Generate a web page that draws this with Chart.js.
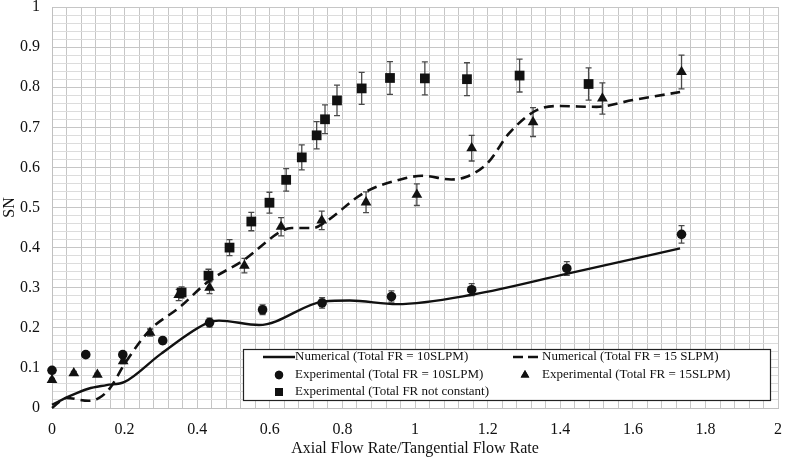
<!DOCTYPE html>
<html>
<head>
<meta charset="utf-8">
<script src="https://cdn.jsdelivr.net/npm/chart.js@4.4.0/dist/chart.umd.min.js"></script>
<style>
  html, body { margin: 0; padding: 0; background: #fff; }
  #wrap { width: 785px; height: 460px; }
</style>
</head>
<body>
<div id="wrap"><canvas id="snChart" width="785" height="460"></canvas></div>
<script>
// tick labels
const xTickLabels = ["0", "0.2", "0.4", "0.6", "0.8", "1", "1.2", "1.4", "1.6", "1.8", "2"];
const yTickLabels = ["0", "0.1", "0.2", "0.3", "0.4", "0.5", "0.6", "0.7", "0.8", "0.9", "1"];

// numerical, total FR = 10 SLPM
const num10X = [0, 0.05, 0.1, 0.15, 0.2, 0.3, 0.43, 0.46, 0.57, 0.75, 0.82, 0.95, 1.16, 1.42, 1.73];
const num10Y = [0.008, 0.03, 0.048, 0.057, 0.065, 0.135, 0.213, 0.218, 0.207, 0.266, 0.268, 0.259, 0.283, 0.335, 0.398];

// numerical, total FR = 15 SLPM
const num15X = [0, 0.04, 0.1, 0.13, 0.16, 0.2, 0.27, 0.35, 0.43, 0.53, 0.63, 0.66, 0.72, 0.75, 0.86, 0.96, 1.02, 1.1, 1.14, 1.2, 1.26, 1.34, 1.4, 1.5, 1.6, 1.73];
const num15Y = [0, 0.025, 0.018, 0.025, 0.05, 0.11, 0.195, 0.25, 0.315, 0.37, 0.44, 0.449, 0.449, 0.462, 0.537, 0.57, 0.579, 0.57, 0.576, 0.611, 0.686, 0.745, 0.753, 0.751, 0.768, 0.788];

// experimental, total FR = 10 SLPM (circles)
const exp10X = [0, 0.093, 0.195, 0.305, 0.434, 0.58, 0.744, 0.935, 1.156, 1.418, 1.734];
const exp10Y = [0.094, 0.133, 0.133, 0.168, 0.213, 0.245, 0.262, 0.278, 0.295, 0.348, 0.433];
const exp10Err = [0.005, 0.007, 0.007, 0.008, 0.011, 0.012, 0.013, 0.014, 0.015, 0.017, 0.022];

// experimental, total FR = 15 SLPM (triangles)
const exp15X = [0, 0.06, 0.125, 0.196, 0.27, 0.349, 0.434, 0.53, 0.631, 0.743, 0.865, 1.005, 1.156, 1.325, 1.516, 1.734];
const exp15Y = [0.07, 0.087, 0.083, 0.117, 0.188, 0.282, 0.30, 0.355, 0.452, 0.468, 0.513, 0.532, 0.648, 0.713, 0.772, 0.838];
const exp15Err = [0.004, 0.004, 0.004, 0.006, 0.009, 0.014, 0.015, 0.018, 0.023, 0.023, 0.026, 0.027, 0.032, 0.036, 0.039, 0.042];

// experimental, total FR not constant (squares)
const expNcX = [0.357, 0.431, 0.489, 0.549, 0.599, 0.645, 0.688, 0.729, 0.752, 0.785, 0.853, 0.931, 1.027, 1.143, 1.288, 1.478];
const expNcY = [0.288, 0.33, 0.40, 0.465, 0.512, 0.569, 0.625, 0.68, 0.72, 0.767, 0.797, 0.823, 0.822, 0.820, 0.829, 0.808];
const expNcErr = [0.014, 0.016, 0.02, 0.023, 0.026, 0.028, 0.031, 0.034, 0.036, 0.038, 0.04, 0.041, 0.041, 0.041, 0.041, 0.04];

const toPoints = (xs, ys) => xs.map((x, i) => ({ x: x, y: ys[i] }));
const findLabel = (v, labels) => labels.find(l => Math.abs(parseFloat(l) - v) < 1e-6);

const serif = "'Liberation Serif', 'Times New Roman', serif";
const ink = "#111";

// error bars, drawn under the markers
const errorBarPlugin = {
  id: "errorBars",
  beforeDatasetsDraw(chart) {
    const { ctx, scales: { x, y } } = chart;
    ctx.save();
    ctx.strokeStyle = "#4a4a4a";
    ctx.lineWidth = 1.3;
    chart.data.datasets.forEach(ds => {
      if (!ds.errors) return;
      ds.data.forEach((p, j) => {
        const e = ds.errors[j];
        const px = x.getPixelForValue(p.x);
        const top = y.getPixelForValue(p.y + e);
        const bot = y.getPixelForValue(p.y - e);
        ctx.beginPath();
        ctx.moveTo(px, top); ctx.lineTo(px, bot);
        ctx.moveTo(px - 3, top); ctx.lineTo(px + 3, top);
        ctx.moveTo(px - 3, bot); ctx.lineTo(px + 3, bot);
        ctx.stroke();
      });
    });
    ctx.restore();
  }
};

// legend box inside the plot (bottom right)
const boxLegendPlugin = {
  id: "boxLegend",
  afterDraw(chart) {
    const ctx = chart.ctx;
    const left = 243, top = 349, right = 770, bottom = 400;
    ctx.save();
    ctx.fillStyle = "#fff";
    ctx.fillRect(left, top, right - left, bottom - top);
    ctx.strokeStyle = "#222";
    ctx.lineWidth = 1.2;
    ctx.strokeRect(left + 0.5, top + 0.5, right - left, bottom - top);

    ctx.font = "13px " + serif;
    ctx.fillStyle = ink;
    ctx.textBaseline = "middle";
    const rows = [357, 375, 392];

    // row 1
    ctx.strokeStyle = ink;
    ctx.lineWidth = 2.5;
    ctx.beginPath(); ctx.moveTo(263, rows[0]); ctx.lineTo(295, rows[0]); ctx.stroke();
    ctx.fillText("Numerical (Total FR = 10SLPM)", 295, rows[0]);
    ctx.setLineDash([10, 5]);
    ctx.beginPath(); ctx.moveTo(513, rows[0]); ctx.lineTo(541, rows[0]); ctx.stroke();
    ctx.setLineDash([]);
    ctx.fillText("Numerical (Total FR = 15 SLPM)", 542, rows[0]);

    // row 2
    Chart.helpers.drawPoint(ctx, { pointStyle: "circle", radius: 4.2, borderWidth: 0 }, 279, rows[1]);
    ctx.fill();
    ctx.fillText("Experimental (Total FR = 10SLPM)", 295, rows[1]);
    Chart.helpers.drawPoint(ctx, { pointStyle: "triangle", radius: 5, borderWidth: 0 }, 525, rows[1]);
    ctx.fill();
    ctx.fillText("Experimental (Total FR = 15SLPM)", 542, rows[1]);

    // row 3
    ctx.fillRect(275, rows[2] - 4, 8, 8);
    ctx.fillText("Experimental (Total FR not constant)", 295, rows[2]);
    ctx.restore();
  }
};

new Chart(document.getElementById("snChart"), {
  type: "scatter",
  data: {
    datasets: [
      {
        label: "Experimental (Total FR not constant)",
        data: toPoints(expNcX, expNcY),
        errors: expNcErr,
        pointStyle: "rect",
        pointRadius: 6.9,
        backgroundColor: ink,
        borderColor: ink,
        borderWidth: 0,
        order: 0,
        clip: false
      },
      {
        label: "Experimental (Total FR = 15SLPM)",
        data: toPoints(exp15X, exp15Y),
        errors: exp15Err,
        pointStyle: "triangle",
        pointRadius: 6.2,
        backgroundColor: ink,
        borderColor: ink,
        borderWidth: 0,
        order: 0,
        clip: false
      },
      {
        label: "Experimental (Total FR = 10SLPM)",
        data: toPoints(exp10X, exp10Y),
        errors: exp10Err,
        pointStyle: "circle",
        pointRadius: 4.8,
        backgroundColor: ink,
        borderColor: ink,
        borderWidth: 0,
        order: 0,
        clip: false
      },
      {
        label: "Numerical (Total FR = 10SLPM)",
        data: toPoints(num10X, num10Y),
        showLine: true,
        cubicInterpolationMode: "monotone",
        borderColor: ink,
        borderWidth: 2.4,
        pointRadius: 0,
        order: 1,
        clip: false
      },
      {
        label: "Numerical (Total FR = 15 SLPM)",
        data: toPoints(num15X, num15Y),
        showLine: true,
        cubicInterpolationMode: "monotone",
        borderColor: ink,
        borderWidth: 2.6,
        borderDash: [10, 6],
        pointRadius: 0,
        order: 1,
        clip: false
      }
    ]
  },
  options: {
    responsive: false,
    animation: false,
    layout: { padding: { top: 7, right: 5, left: 0, bottom: 0 } },
    plugins: {
      legend: { display: false },
      tooltip: { enabled: false }
    },
    scales: {
      x: {
        type: "linear",
        min: 0,
        max: 2,
        border: { display: true, color: "#c0c0c0" },
        grid: { color: "#c6c6c6", drawTicks: false, lineWidth: 1 },
        ticks: {
          stepSize: 0.04,
          autoSkip: false,
          maxRotation: 0,
          padding: 12,
          color: ink,
          font: { family: serif, size: 16 },
          callback: v => findLabel(v, xTickLabels) || ""
        },
        title: {
          display: true,
          text: "Axial Flow Rate/Tangential Flow Rate",
          color: ink,
          font: { family: serif, size: 16 },
          padding: { top: 0, bottom: 2 }
        },
        afterFit: s => { s.height = 52; s.paddingLeft = 0; s.paddingRight = 0; }
      },
      y: {
        type: "linear",
        min: 0,
        max: 1,
        border: { display: true, color: "#c0c0c0" },
        grid: {
          color: c => findLabel(c.tick.value, yTickLabels) ? "#c6c6c6" : "#dcdcdc",
          drawTicks: false,
          lineWidth: 1
        },
        ticks: {
          stepSize: 0.02,
          autoSkip: false,
          padding: 12,
          color: ink,
          font: { family: serif, size: 16 },
          callback: v => findLabel(v, yTickLabels) || ""
        },
        title: {
          display: true,
          text: "SN",
          color: ink,
          font: { family: serif, size: 16 },
          padding: { top: 0, bottom: 0 }
        },
        afterFit: s => { s.width = 52; s.paddingTop = 0; s.paddingBottom = 0; }
      }
    }
  },
  plugins: [errorBarPlugin, boxLegendPlugin]
});
</script>
</body>
</html>
